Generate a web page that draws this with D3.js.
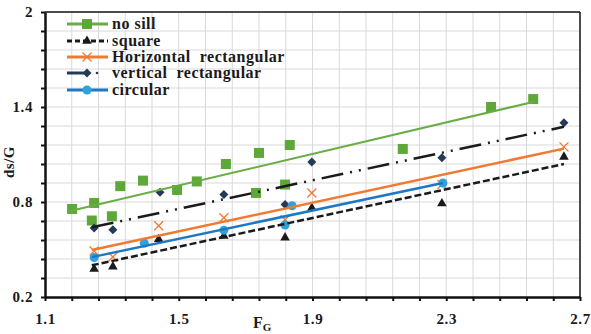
<!DOCTYPE html>
<html><head><meta charset="utf-8">
<script src="https://cdn.jsdelivr.net/npm/d3@7"></script>
<style>body{margin:0;background:#fff}svg{display:block}text{font-family:"Liberation Serif","Times New Roman",serif;font-weight:bold;fill:#1a1a1a}</style>
</head><body><svg id="c" width="591" height="334"></svg>
<script>
// ---- data ----
const seriesNames = ["no sill", "square", "Horizontal  rectangular", "vertical  rectangular", "circular"];
const noSillX = [1.181,1.247,1.240,1.300,1.325,1.393,1.495,1.554,1.641,1.731,1.740,1.818,1.832,2.170,2.434,2.560];
const noSillY = [0.756,0.794,0.683,0.710,0.900,0.935,0.876,0.930,1.040,0.857,1.110,0.910,1.160,1.135,1.400,1.450];
const squareX = [1.247,1.303,1.440,1.635,1.818,1.898,2.287,2.652];
const squareY = [0.377,0.392,0.565,0.585,0.575,0.762,0.790,1.085];
const horizX = [1.247,1.303,1.440,1.635,1.818,1.898,2.287,2.652];
const horizY = [0.490,0.453,0.650,0.700,0.688,0.857,0.910,1.148];
const vertX = [1.247,1.303,1.444,1.635,1.818,1.898,2.287,2.652];
const vertY = [0.636,0.625,0.862,0.848,0.785,1.052,1.080,1.300];
const circX = [1.247,1.397,1.635,1.818,1.839,2.290];
const circY = [0.449,0.540,0.622,0.655,0.776,0.920];
// trend line end points [x0, y0, x1, y1]
const trendNoSill = [1.169,0.740,2.560,1.432];
const trendSquare = [1.240,0.400,2.652,1.040];
const trendHoriz  = [1.240,0.497,2.652,1.137];
const trendVert   = [1.240,0.640,2.652,1.275];
const trendCirc   = [1.240,0.452,2.290,0.920];
const xTickLabels = ["1.1","1.5","1.9","2.3","2.7"];
const yTickLabels = ["0.2","0.8","1.4","2"];

// ---- layout ----
const L=45,R=580,T=12,B=297;
const svg=d3.select("#c");
const x=d3.scaleLinear().domain([1.1,2.7]).range([L,R]);
const y=d3.scaleLinear().domain([0.2,2]).range([B,T]);
const xMinor=d3.range(0,21).map(i=>1.1+i*0.08);
const yMinor=d3.range(0,16).map(i=>0.2+i*0.12);

// grid
svg.append("g").selectAll("line").data(xMinor.slice(1,-1)).join("line")
  .attr("x1",d=>x(d)).attr("x2",d=>x(d)).attr("y1",T).attr("y2",B)
  .attr("stroke","#d9d9d9").attr("stroke-width",1);
svg.append("g").selectAll("line").data(yMinor.slice(1,-1)).join("line")
  .attr("y1",d=>y(d)).attr("y2",d=>y(d)).attr("x1",L).attr("x2",R)
  .attr("stroke","#d9d9d9").attr("stroke-width",1);

// frame
svg.append("line").attr("x1",L).attr("x2",R).attr("y1",T).attr("y2",T).attr("stroke","#111").attr("stroke-width",1.5);
svg.append("line").attr("x1",R).attr("x2",R).attr("y1",T).attr("y2",B).attr("stroke","#111").attr("stroke-width",1.5);

// axes
const fmtX=d=>{const i=xTickLabels.findIndex(s=>Math.abs(+s-d)<1e-6);return i>=0?xTickLabels[i]:"";};
const fmtY=d=>{const i=yTickLabels.findIndex(s=>Math.abs(+s-d)<1e-6);return i>=0?yTickLabels[i]:"";};
const gx=svg.append("g").attr("transform",`translate(0,${B})`)
  .call(d3.axisBottom(x).tickValues(xMinor).tickFormat(fmtX).tickSize(4).tickPadding(12).tickSizeOuter(0));
const gy=svg.append("g").attr("transform",`translate(${L},0)`)
  .call(d3.axisLeft(y).tickValues(yMinor).tickFormat(fmtY).tickSize(4).tickPadding(8).tickSizeOuter(0));
[gx,gy].forEach(g=>{
  g.select(".domain").attr("stroke","#111").attr("stroke-width",2.5);
  g.selectAll(".tick line").attr("stroke","#111").attr("stroke-width",2);
  g.selectAll(".tick text").attr("font-size",15).attr("font-family","Liberation Serif").attr("font-weight","bold").attr("fill","#1a1a1a").attr("letter-spacing","0.6px");
});

// axis titles
svg.append("text").attr("transform","translate(14,162) rotate(-90)").attr("text-anchor","middle").attr("font-size",15).attr("letter-spacing","0.5px").text("ds/G");
const ft=svg.append("text").attr("x",253).attr("y",328).attr("font-size",16);
ft.append("tspan").text("F");
ft.append("tspan").attr("font-size",11).attr("dy",3).text("G");

// styles
const styles=[
  {xs:noSillX,ys:noSillY,tr:trendNoSill,line:"#6aac46",mark:"#5ea83a",dash:null,w:2,shape:"square"},
  {xs:squareX,ys:squareY,tr:trendSquare,line:"#1a1a1a",mark:"#1a1a1a",dash:"7,3",w:2.5,shape:"triangle"},
  {xs:horizX,ys:horizY,tr:trendHoriz,line:"#f07a33",mark:"#f07a33",dash:null,w:2.5,shape:"x"},
  {xs:vertX,ys:vertY,tr:trendVert,line:"#1a1a1a",mark:"#243a56",dash:"22,7,2,7,2,7",w:2.5,shape:"diamond"},
  {xs:circX,ys:circY,tr:trendCirc,line:"#1f78c4",mark:"#2ca3dc",dash:null,w:2.5,shape:"circle"}
];
function drawMarker(g,shape,cx,cy,col){
  if(shape==="square") g.append("rect").attr("x",cx-5).attr("y",cy-5).attr("width",10).attr("height",10).attr("fill",col);
  else if(shape==="triangle") g.append("path").attr("d",d3.symbol(d3.symbolTriangle,40)()).attr("transform",`translate(${cx},${cy})`).attr("fill",col);
  else if(shape==="diamond") g.append("path").attr("d",`M0,-4.5L4.5,0L0,4.5L-4.5,0Z`).attr("transform",`translate(${cx},${cy})`).attr("fill",col);
  else if(shape==="circle") g.append("circle").attr("cx",cx).attr("cy",cy).attr("r",4.5).attr("fill",col);
  else if(shape==="x") g.append("path").attr("d","M-4.5,-4.5L4.5,4.5M-4.5,4.5L4.5,-4.5").attr("transform",`translate(${cx},${cy})`).attr("stroke",col).attr("stroke-width",1.3).attr("fill","none");
}
const gm=svg.append("g"), gl=svg.append("g");
styles.forEach(s=>{
  s.xs.forEach((xv,i)=>drawMarker(gm,s.shape,x(xv),y(s.ys[i]),s.mark));
});
styles.forEach(s=>{
  const l=gl.append("line").attr("x1",x(s.tr[0])).attr("y1",y(s.tr[1])).attr("x2",x(s.tr[2])).attr("y2",y(s.tr[3]))
    .attr("stroke",s.line).attr("stroke-width",s.w);
  if(s.dash) l.attr("stroke-dasharray",s.dash);
});

// legend
const lg=svg.append("g");
const legY=[24,41,57,73,90];
styles.forEach((s,i)=>{
  const yy=legY[i];
  const lc=i===3?"#243a56":s.line;
  const l=lg.append("line").attr("x1",67).attr("x2",108).attr("y1",yy).attr("y2",yy).attr("stroke",lc).attr("stroke-width",3);
  if(i===1) l.attr("stroke-dasharray","5,3");
  if(i===3) l.attr("x2",88);
  drawMarker(lg,s.shape,87,yy,s.mark);
  if(i===3) lg.append("circle").attr("cx",97).attr("cy",yy).attr("r",1.3).attr("fill","#243a56");
  lg.append("text").attr("x",112).attr("y",yy+5).attr("font-size",16).attr("letter-spacing","0.5px").style("white-space","pre").text(seriesNames[i]);
});
</script></body></html>
